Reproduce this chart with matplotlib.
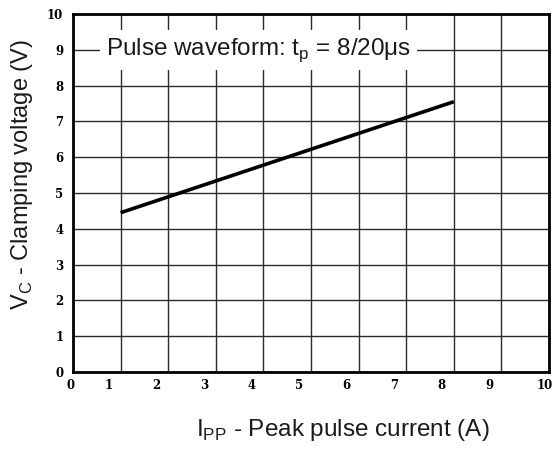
import matplotlib
matplotlib.use("Agg")
import matplotlib.pyplot as plt
import matplotlib.transforms as mtransforms

# clamping voltage vs peak pulse current (8/20us)
ipp = [1.0, 8.0]
vc = [4.45, 7.55]

x_ticks = list(range(0, 11))
y_ticks = list(range(0, 11))
# label offsets in px (datasheet labels sit left of the grid lines)
x_label_shift = [-2, -12, -12, -12, -12, -12, -12, -12, -12, -12, -4]

fig = plt.figure(figsize=(5.52, 4.5), dpi=100)
ax = fig.add_axes([73 / 552, 1 - 372 / 450, 476 / 552, 358 / 450])

ax.plot(ipp, vc, color="black", lw=2.6, solid_capstyle="butt", zorder=3)

ax.set_xlim(0, 10)
ax.set_ylim(0, 10)
ax.set_xticks(x_ticks)
ax.set_yticks(y_ticks)
ax.grid(True, color="#2a2a2a", lw=1.0)
ax.set_axisbelow(True)
ax.tick_params(length=0, pad=5)
for sp in ax.spines.values():
    sp.set_linewidth(2.0)
    sp.set_color("black")

tick_font = dict(family="DejaVu Serif", weight="bold", size=8.5)
ax.set_xticklabels([str(t) for t in x_ticks], **tick_font)
ax.set_yticklabels([str(t) for t in y_ticks], **tick_font)
ax.tick_params(axis="y", pad=7)
for lab, dx in zip(ax.get_xticklabels(), x_label_shift):
    lab.set_transform(lab.get_transform()
                      + mtransforms.ScaledTranslation(dx / 100, 0, fig.dpi_scale_trans))

ax.text(3.9, 9.0, r"Pulse waveform: t$_\mathregular{p}$ = 8/20$\mathregular{\mu}$s",
        ha="center", va="center", fontsize=17.5, family="Liberation Sans",
        color="#1a1a1a", zorder=4,
        bbox=dict(boxstyle="square,pad=0.25", fc="white", ec="none"))

fig.text(22 / 552, 1 - 175 / 450, r"V$_\mathregular{C}$ - Clamping voltage (V)",
         rotation=90, ha="center", va="center", fontsize=17,
         family="Liberation Sans", color="#1a1a1a")
fig.text(343 / 552, 1 - 430 / 450, r"I$_\mathregular{PP}$ - Peak pulse current (A)",
         ha="center", va="center", fontsize=17.5,
         family="Liberation Sans", color="#1a1a1a")

fig.savefig("out.png", dpi=100)
